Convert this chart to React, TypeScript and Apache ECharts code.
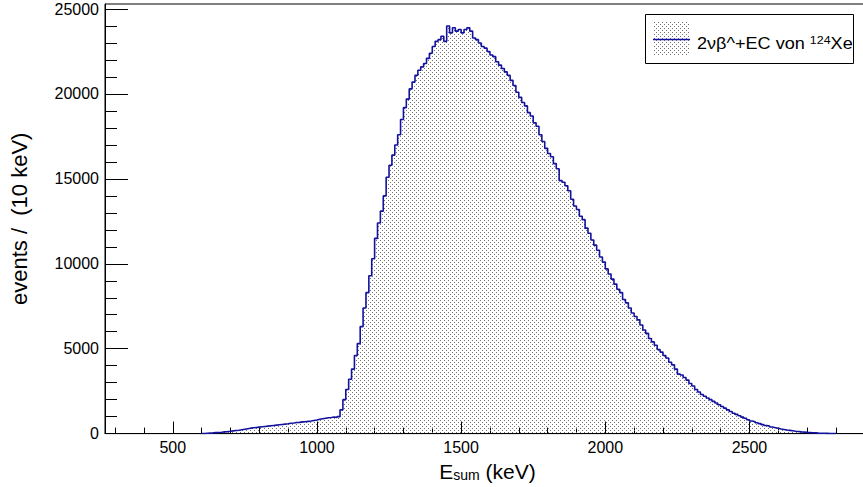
import React, { useEffect, useRef } from 'react';
import * as echarts from 'echarts';

// Histogram: events per 10 keV bin, first bin starts at 600 keV
const BIN_START = 600;
const BIN_WIDTH = 10;
const COUNTS = [
  10, 20, 30, 40, 55, 65, 80, 100, 115, 135,
  160, 180, 200, 230, 260, 290, 320, 340, 360, 380,
  400, 420, 440, 460, 480, 500, 520, 540, 560, 580,
  610, 620, 650, 660, 690, 700, 720, 740, 770, 800,
  840, 870, 900, 930, 950, 980, 950, 1000, 1400, 2000,
  2600, 3200, 3800, 4600, 5300, 6300, 7400, 8300, 9300, 10300,
  11500, 12400, 13100, 14000, 15100, 15800, 16400, 17000, 17600, 18500,
  19200, 19700, 20300, 20700, 21100, 21400, 21600, 21800, 22100, 22400,
  22800, 23100, 23200, 23400, 23100, 24000, 23600, 23900, 23700, 23800,
  23600, 23800, 23900, 23700, 23300, 23200, 23000, 22800, 22700, 22500,
  22300, 22200, 21900, 21700, 21500, 21300, 21100, 20800, 20500, 20100,
  19800, 19500, 19300, 18900, 18700, 18300, 18100, 17600, 17200, 16800,
  16500, 16300, 15900, 15600, 14900, 14800, 14600, 14300, 13800, 13400,
  13200, 12800, 12600, 12100, 11800, 11400, 11100, 10800, 10400, 10100,
  9700, 9400, 9100, 8800, 8500, 8300, 7900, 7700, 7400, 7100,
  6900, 6700, 6400, 6100, 5900, 5600, 5400, 5200, 4950, 4800,
  4600, 4450, 4200, 4050, 3800, 3500, 3450, 3300, 3150, 2950,
  2800, 2600, 2450, 2300, 2200, 2100, 2000, 1900, 1800, 1700,
  1600, 1500, 1400, 1300, 1200, 1130, 1050, 970, 900, 820,
  740, 700, 640, 590, 530, 480, 440, 390, 350, 310,
  270, 240, 210, 190, 165, 140, 120, 100, 85, 70,
  60, 50, 40, 30, 25, 20, 15, 10, 8, 5,
];

const X_MAJOR = [500, 1000, 1500, 2000, 2500];
const X_MINOR = [300, 400, 600, 700, 800, 900, 1100, 1200, 1300, 1400, 1600, 1700, 1800, 1900, 2100, 2200, 2300, 2400, 2600, 2700, 2800];
const Y_MAJOR = [0, 5000, 10000, 15000, 20000, 25000];
const Y_MINOR = [1000, 2000, 3000, 4000, 6000, 7000, 8000, 9000, 11000, 12000, 13000, 14000, 16000, 17000, 18000, 19000, 21000, 22000, 23000, 24000];

const LEGEND_TEXT = '2νβ^+EC von ';
const LEGEND_SUP = '124';
const LEGEND_TAIL = 'Xe';

const FONT = '"Liberation Sans", Arial, Helvetica, sans-serif';
const LINE_COLOR = '#12129e';

function makePattern() {
  const c = document.createElement('canvas');
  c.width = 4;
  c.height = 4;
  const ctx = c.getContext('2d')!;
  ctx.fillStyle = '#707070';
  ctx.fillRect(0, 0, 1, 1);
  ctx.fillRect(2, 2, 1, 1);
  return { image: c, repeat: 'repeat', imageWidth: 4, imageHeight: 4 } as any;
}

export default function App() {
  const ref = useRef<HTMLDivElement>(null);
  useEffect(() => {
    const chart = echarts.init(ref.current!, null, { renderer: 'svg' });
    const pattern = makePattern();
    const data: number[][] = COUNTS.map((v, i) => [BIN_START + i * BIN_WIDTH, v]);
    data.push([BIN_START + COUNTS.length * BIN_WIDTH, 0]);

    const xMin = 265;
    const xMax = 2918;
    const yMin = 0;
    const yMax = 25300;

    const option: any = {
      animation: false,
      backgroundColor: '#fff',
      grid: {
        left: 104,
        top: 4,
        right: 10,
        bottom: 53,
        show: true,
        borderColor: '#000',
        borderWidth: 1,
        containLabel: false,
      },
      xAxis: [
        {
          type: 'value',
          min: xMin,
          max: xMax,
          position: 'bottom',
          name: '{a|E}{sub|sum}{a| (keV)}',
          nameLocation: 'middle',
          nameGap: 18,
          nameTextStyle: {
            rich: {
              a: { fontSize: 21, fontFamily: FONT, color: '#000', lineHeight: 22 },
              sub: { fontSize: 14, fontFamily: FONT, color: '#000', lineHeight: 14, verticalAlign: 'bottom' },
            },
          },
          axisLine: { show: true, onZero: false, lineStyle: { color: '#000', width: 1 } },
          axisTick: { show: true, inside: true, length: 12, customValues: X_MAJOR, lineStyle: { color: '#000' } },
          axisLabel: { show: true, customValues: X_MAJOR, margin: 6, fontSize: 16, fontFamily: FONT, color: '#000', formatter: (v: number) => String(v) },
          splitLine: { show: false },
        },
        {
          type: 'value',
          min: xMin,
          max: xMax,
          position: 'bottom',
          axisLine: { show: false },
          axisTick: { show: true, inside: true, length: 6, customValues: X_MINOR, lineStyle: { color: '#000' } },
          axisLabel: { show: false },
          splitLine: { show: false },
        },
      ],
      yAxis: [
        {
          type: 'value',
          min: yMin,
          max: yMax,
          position: 'left',
          name: 'events /  (10 keV)',
          nameLocation: 'middle',
          nameGap: 75,
          nameTextStyle: { fontSize: 22, fontFamily: FONT, color: '#000' },
          axisLine: { show: true, onZero: false, lineStyle: { color: '#000', width: 1 } },
          axisTick: { show: true, inside: true, length: 23, customValues: Y_MAJOR, lineStyle: { color: '#000' } },
          axisLabel: { show: true, customValues: Y_MAJOR, margin: 6, fontSize: 16, fontFamily: FONT, color: '#000', formatter: (v: number) => String(v) },
          splitLine: { show: false },
        },
        {
          type: 'value',
          min: yMin,
          max: yMax,
          position: 'left',
          axisLine: { show: false },
          axisTick: { show: true, inside: true, length: 12, customValues: Y_MINOR, lineStyle: { color: '#000' } },
          axisLabel: { show: false },
          splitLine: { show: false },
        },
      ],
      series: [
        {
          type: 'line',
          name: 'hist',
          xAxisIndex: 0,
          yAxisIndex: 0,
          data,
          step: 'end',
          showSymbol: false,
          symbol: 'none',
          lineStyle: { color: LINE_COLOR, width: 1.6 },
          areaStyle: { color: pattern, opacity: 1 },
          z: 3,
        },
      ],
      graphic: [
        {
          type: 'rect',
          shape: { x: 645.5, y: 14.5, width: 208, height: 49 },
          style: { fill: '#fff', stroke: null },
          z: 10,
        },
        {
          type: 'rect',
          shape: { x: 653, y: 21, width: 37, height: 34 },
          style: { fill: makePattern() },
          z: 11,
        },
        {
          type: 'line',
          shape: { x1: 653, y1: 39.5, x2: 690, y2: 39.5 },
          style: { stroke: LINE_COLOR, lineWidth: 1.6 },
          z: 12,
        },
        {
          type: 'text',
          x: 697,
          y: 44,
          scaleX: 1.13,
          style: {
            text: '{a|' + LEGEND_TEXT + '}{sup|' + LEGEND_SUP + '}{a|' + LEGEND_TAIL + '}',
            verticalAlign: 'middle',
            align: 'left',
            rich: {
              a: { fontSize: 16, fontFamily: FONT, fill: '#000', lineHeight: 20 },
              sup: { fontSize: 11, fontFamily: FONT, fill: '#000', lineHeight: 11, verticalAlign: 'top' },
            },
          },
          z: 12,
        },
        {
          type: 'rect',
          shape: { x: 853.5, y: 13, width: 30, height: 52 },
          style: { fill: '#fff' },
          z: 13,
        },
        {
          type: 'rect',
          shape: { x: 645.5, y: 14.5, width: 208, height: 49 },
          style: { fill: 'none', stroke: '#000', lineWidth: 1 },
          z: 14,
        },
      ],
    };
    chart.setOption(option);
    return () => chart.dispose();
  }, []);
  return (
    <div
      ref={ref}
      style={{ position: 'fixed', left: 0, top: 0, width: 880, height: 487, background: '#fff' }}
    />
  );
}
